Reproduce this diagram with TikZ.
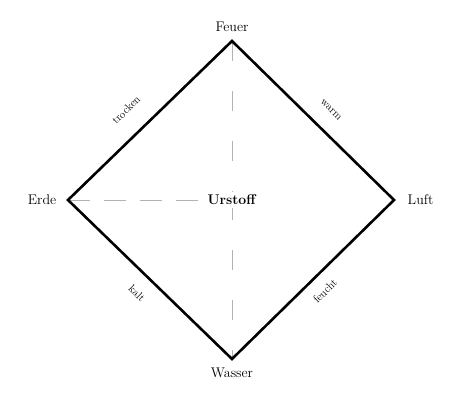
\documentclass[tikz,border=0pt]{standalone}

\begin{document}
\begin{tikzpicture}[x=1pt, y=-1pt, thick]
  \useasboundingbox (0,0) rectangle (458,395);
  \coordinate (F) at (232,41);   % Feuer
  \coordinate (L) at (394,200);  % Luft
  \coordinate (W) at (232,359);  % Wasser
  \coordinate (E) at (68,200);   % Erde
  \coordinate (U) at (232,200);  % Urstoff

  % Hilfslinien (grau gestrichelt)
  \draw[black!30, dash pattern=on 22pt off 14pt] (E)--(U);
  \draw[black!30, dash pattern=on 20pt off 30pt] (F)--(U);
  \draw[black!30, dash pattern=on 20pt off 30pt] (U)--(W);

  \draw[line width=2.6pt, line join=miter] (F)--(L)--(W)--(E)--cycle;

  \node[fill=white, inner sep=3pt] (urstoff) at (U) {\fontsize{14}{14}\selectfont\textbf{Urstoff}};
  \node[above=6pt] (feuer) at (F) {\fontsize{14}{14}\selectfont Feuer};
  \node[right=10pt] (luft) at (L) {\fontsize{14}{14}\selectfont Luft};
  \node[below=5pt] (wasser) at (W) {\fontsize{14}{14}\selectfont Wasser};
  \node[left=8pt] (erde) at (E) {\fontsize{14}{14}\selectfont Erde};

  % Eigenschaften an den Kanten
  \node[rotate=45] (trocken) at (126,110) {\fontsize{11}{11}\selectfont trocken};
  \node[rotate=-45] (warm) at (331,110) {\fontsize{11}{11}\selectfont warm};
  \node[rotate=-45] (kalt) at (137,293) {\fontsize{11}{11}\selectfont kalt};
  \node[rotate=45] (feucht) at (325,291) {\fontsize{11}{11}\selectfont feucht};
\end{tikzpicture}
\end{document}
